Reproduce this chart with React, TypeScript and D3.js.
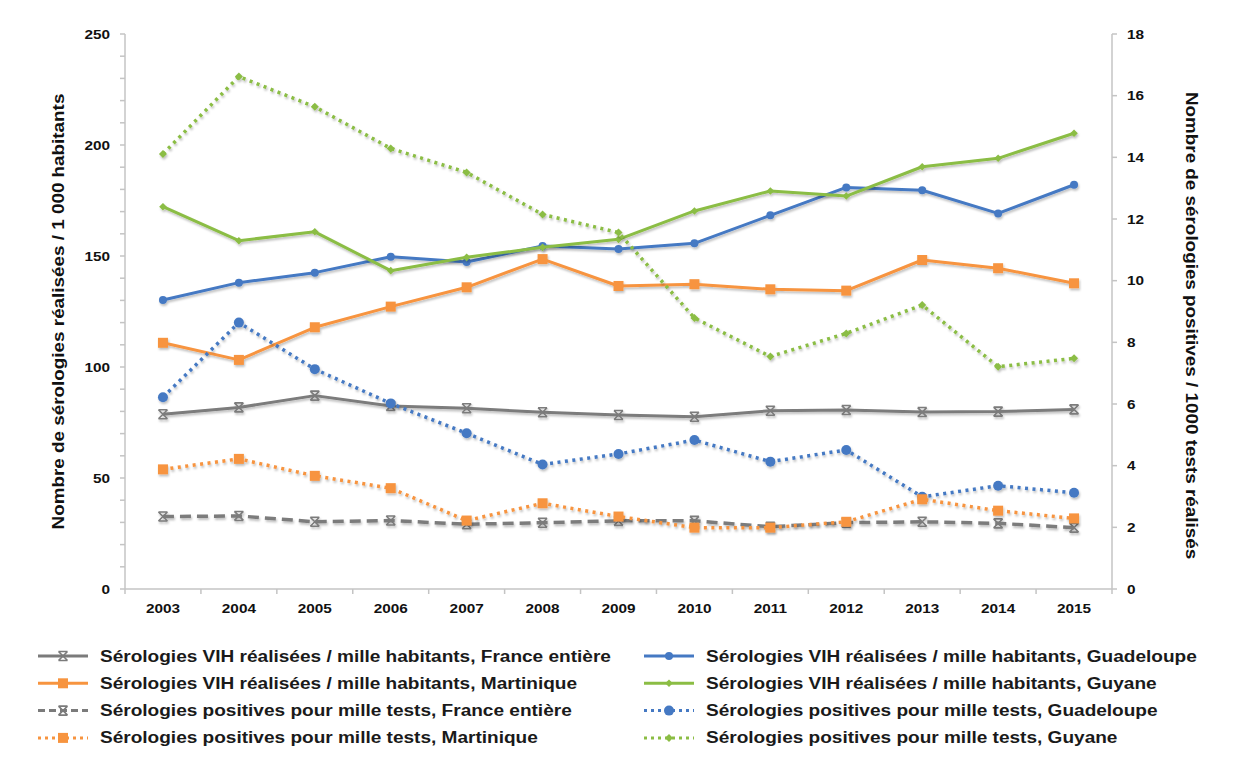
import React from "react";
import * as d3 from "d3";

const years = ["2003","2004","2005","2006","2007","2008","2009","2010","2011","2012","2013","2014","2015"];

// left axis: sérologies réalisées / 1000 habitants
const franceRealisees = [78.7, 81.8, 87.1, 82.4, 81.4, 79.6, 78.4, 77.6, 80.3, 80.6, 79.7, 79.9, 80.9];
const guadeloupeRealisees = [130.2, 138.0, 142.5, 149.7, 147.3, 154.5, 153.2, 155.7, 168.3, 180.9, 179.6, 169.2, 182.1];
const martiniqueRealisees = [110.9, 103.2, 117.9, 127.2, 135.9, 148.6, 136.5, 137.3, 135.0, 134.4, 148.2, 144.5, 137.7];
const guyaneRealisees = [172.2, 156.9, 160.9, 143.4, 149.4, 153.9, 157.5, 170.3, 179.3, 177.0, 190.2, 194.0, 205.3];

// right axis: sérologies positives / 1000 tests
const francePositives = [2.35, 2.37, 2.18, 2.22, 2.10, 2.15, 2.21, 2.21, 2.02, 2.15, 2.18, 2.13, 1.99];
const guadeloupePositives = [6.22, 8.64, 7.13, 6.02, 5.05, 4.04, 4.38, 4.83, 4.13, 4.51, 2.99, 3.35, 3.12];
const martiniquePositives = [3.88, 4.22, 3.67, 3.27, 2.22, 2.78, 2.35, 1.99, 1.99, 2.18, 2.91, 2.54, 2.29];
const guyanePositives = [14.11, 16.62, 15.64, 14.29, 13.51, 12.15, 11.56, 8.79, 7.54, 8.29, 9.21, 7.21, 7.48];

const leftTicks = [0, 50, 100, 150, 200, 250];
const rightTicks = [0, 2, 4, 6, 8, 10, 12, 14, 16, 18];

const leftTitle = "Nombre de sérologies réalisées / 1 000 habitants";
const rightTitle = "Nombre de sérologies positives / 1000 tests réalisés";

const GRAY = "#7b7b7b";
const BLUE = "#4579c3";
const ORANGE = "#f7943f";
const GREEN = "#8bbd44";

type Marker = "star" | "circle" | "square" | "diamond";
interface Series {
  label: string;
  values: number[];
  axis: "L" | "R";
  color: string;
  dash: string | null;
  marker: Marker;
  msize: number;
}

const series: Series[] = [
  { label: "Sérologies VIH réalisées / mille habitants, France entière", values: franceRealisees, axis: "L", color: GRAY, dash: null, marker: "star", msize: 4.5 },
  { label: "Sérologies VIH réalisées / mille habitants, Guadeloupe", values: guadeloupeRealisees, axis: "L", color: BLUE, dash: null, marker: "circle", msize: 4 },
  { label: "Sérologies VIH réalisées / mille habitants, Martinique", values: martiniqueRealisees, axis: "L", color: ORANGE, dash: null, marker: "square", msize: 5 },
  { label: "Sérologies VIH réalisées / mille habitants, Guyane", values: guyaneRealisees, axis: "L", color: GREEN, dash: null, marker: "diamond", msize: 3.8 },
  { label: "Sérologies positives pour mille tests, France entière", values: francePositives, axis: "R", color: GRAY, dash: "11,6", marker: "star", msize: 4.5 },
  { label: "Sérologies positives pour mille tests, Guadeloupe", values: guadeloupePositives, axis: "R", color: BLUE, dash: "3,4.5", marker: "circle", msize: 5 },
  { label: "Sérologies positives pour mille tests, Martinique", values: martiniquePositives, axis: "R", color: ORANGE, dash: "3,4.5", marker: "square", msize: 5 },
  { label: "Sérologies positives pour mille tests, Guyane", values: guyanePositives, axis: "R", color: GREEN, dash: "3,4.5", marker: "diamond", msize: 4 },
];

const legendOrder = [0, 1, 2, 3, 4, 5, 6, 7];

const W = 1233, H = 778;
const plot = { left: 125, right: 1112, top: 34, bottom: 589 };
const FONT = "'Liberation Sans', Arial, sans-serif";

function MarkerShape({ type, x, y, s, color }: { type: Marker; x: number; y: number; s: number; color: string }) {
  if (type === "circle") return <circle cx={x} cy={y} r={s} fill={color} />;
  if (type === "square") return <rect x={x - s} y={y - s} width={2 * s} height={2 * s} fill={color} />;
  if (type === "diamond")
    return <path d={`M${x},${y - s}L${x + s},${y}L${x},${y + s}L${x - s},${y}Z`} fill={color} />;
  // star: X with top/bottom bars
  return (
    <path
      d={`M${x - s},${y - s}L${x + s},${y + s}M${x + s},${y - s}L${x - s},${y + s}M${x - s},${y - s}L${x + s},${y - s}M${x - s},${y + s}L${x + s},${y + s}`}
      stroke={color}
      strokeWidth={1.6}
      fill="none"
    />
  );
}

export default function App() {
  const x = d3.scaleBand<string>().domain(years).range([plot.left, plot.right]);
  const cx = (yr: string) => (x(yr) as number) + x.bandwidth() / 2;
  const yL = d3.scaleLinear().domain([0, 250]).range([plot.bottom, plot.top]);
  const yR = d3.scaleLinear().domain([0, 18]).range([plot.bottom, plot.top]);
  const minorL = d3.range(0, 251, 10);
  const bounds = d3.range(0, years.length + 1).map((i) => plot.left + i * x.bandwidth());

  const sx = 1.18; // horizontal text stretch of the reference
  const midY = (plot.top + plot.bottom) / 2;

  return (
    <svg width={W} height={H} style={{ position: "absolute", left: 0, top: 0, background: "#fff" }} fontFamily={FONT}>
      <defs>
        <filter id="sh" x="-10%" y="-10%" width="120%" height="130%">
          <feDropShadow dx="1" dy="2" stdDeviation="1.2" floodColor="#000" floodOpacity="0.25" />
        </filter>
      </defs>
      <rect width={W} height={H} fill="#fff" />

      {/* axes */}
      <g stroke="#c4c4c4" strokeWidth={1.5} fill="none">
        <line x1={plot.left} x2={plot.left} y1={plot.top} y2={plot.bottom} />
        <line x1={plot.right} x2={plot.right} y1={plot.top} y2={plot.bottom} />
        <line x1={plot.left} x2={plot.right} y1={plot.bottom} y2={plot.bottom} />
        {minorL.map((v) => (
          <line key={"ml" + v} x1={plot.left - 5} x2={plot.left} y1={yL(v)} y2={yL(v)} />
        ))}
        {rightTicks.map((v) => (
          <line key={"rt" + v} x1={plot.right} x2={plot.right + 5} y1={yR(v)} y2={yR(v)} />
        ))}
        {bounds.map((b, i) => (
          <line key={"xt" + i} x1={b} x2={b} y1={plot.bottom} y2={plot.bottom + 5} />
        ))}
      </g>

      {/* tick labels */}
      <g fontSize={13} fontWeight="bold" fill="#111">
        {leftTicks.map((v) => (
          <text key={"ll" + v} transform={`translate(110,${yL(v) + 4.5}) scale(${sx},1)`} textAnchor="end">
            {v}
          </text>
        ))}
        {rightTicks.map((v) => (
          <text key={"rl" + v} transform={`translate(1127,${yR(v) + 4.5}) scale(${sx},1)`} textAnchor="start">
            {v}
          </text>
        ))}
        {years.map((yr) => (
          <text key={"xl" + yr} transform={`translate(${cx(yr)},${plot.bottom + 24}) scale(${sx},1)`} textAnchor="middle">
            {yr}
          </text>
        ))}
      </g>

      {/* axis titles */}
      <text
        transform={`translate(64,${midY}) rotate(-90) scale(1.11,1)`}
        textAnchor="middle"
        fontSize={17}
        fontWeight="bold"
        fill="#111"
      >
        {leftTitle}
      </text>
      <text
        transform={`translate(1186,${midY + 14}) rotate(90) scale(1.11,1)`}
        textAnchor="middle"
        fontSize={17}
        fontWeight="bold"
        fill="#111"
      >
        {rightTitle}
      </text>

      {/* series */}
      {series.map((s, i) => {
        const ys = s.axis === "L" ? yL : yR;
        const line = d3
          .line<number>()
          .x((_, j) => cx(years[j]))
          .y((v) => ys(v));
        return (
          <g key={"s" + i} filter="url(#sh)">
            <path d={line(s.values) || ""} fill="none" stroke={s.color} strokeWidth={s.dash ? 3.5 : 3} strokeDasharray={s.dash || undefined} strokeLinejoin="round" />
            {s.values.map((v, j) => (
              <MarkerShape key={j} type={s.marker} x={cx(years[j])} y={ys(v)} s={s.msize} color={s.color} />
            ))}
          </g>
        );
      })}

      {/* legend */}
      {legendOrder.map((idx, k) => {
        const s = series[idx];
        const col = k % 2;
        const row = Math.floor(k / 2);
        const lx = col === 0 ? 38 : 644;
        const ly = 656 + row * 27.3;
        return (
          <g key={"lg" + k}>
            <line x1={lx} x2={lx + 50} y1={ly} y2={ly} stroke={s.color} strokeWidth={3} strokeDasharray={s.dash ? (s.dash === "11,6" ? "7,4" : "3,4") : undefined} />
            <MarkerShape type={s.marker} x={lx + 25} y={ly} s={s.msize} color={s.color} />
            <text transform={`translate(${lx + 62},${ly + 5.5}) scale(${sx + 0.01},1)`} fontSize={16} fontWeight="bold" fill="#1a1a1a">
              {s.label}
            </text>
          </g>
        );
      })}
    </svg>
  );
}
